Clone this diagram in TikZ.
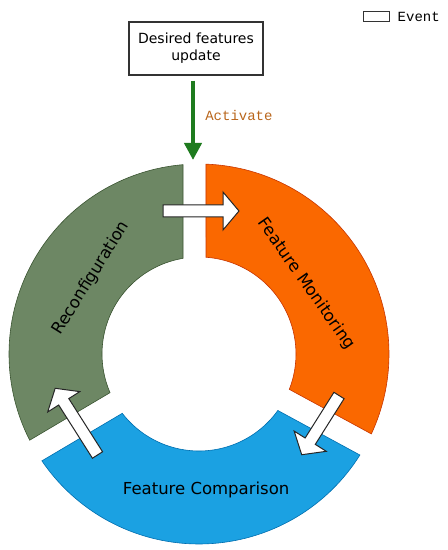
\documentclass[tikz,border=0pt]{standalone}
\usepackage{fontspec}
\setmainfont{DejaVu Sans}
\setmonofont{Liberation Mono}
\usepackage{tikz}
\usetikzlibrary{arrows.meta,positioning,calc}
\definecolor{reconfgreen}{HTML}{6D8764}
\definecolor{reconfline}{HTML}{3A5431}
\definecolor{monorange}{HTML}{FA6800}
\definecolor{monline}{HTML}{C73500}
\definecolor{compblue}{HTML}{1BA1E2}
\definecolor{compline}{HTML}{006EAF}
\definecolor{actgreen}{HTML}{1E7B1E}
\definecolor{actbrown}{HTML}{B9661C}

\tikzset{
  ringtext/.style={font=\fontsize{16.5}{18}\selectfont, inner sep=0pt},
  eventbox/.style={draw=black!80, line width=1.1pt, fill=white, align=center,
    font=\fontsize{14}{17}\selectfont, minimum width=134pt, minimum height=53pt},
  arrowfill/.style={draw=black!85, fill=white, line width=1pt, line join=miter},
  pics/blockarr/.style={code={
    \draw[arrowfill] (0,-6) -- (#1-16,-6) -- (#1-16,-19) -- (#1,0)
      -- (#1-16,19) -- (#1-16,6) -- (0,6) -- cycle;
  }}
}

\begin{document}
\begin{tikzpicture}[x=1pt,y=1pt]
  \useasboundingbox (0,0) rectangle (448,550);
  \coordinate (c) at (199,196);

  % ring segments
  \filldraw[fill=reconfgreen, draw=reconfline, line width=0.6pt]
    ($(c)+(94.83:190)$) arc[start angle=94.83, end angle=206.98, radius=190pt]
    -- ($(c)+(203.49:97)$) arc[start angle=203.49, end angle=99.49, radius=97pt] -- cycle;
  \filldraw[fill=compblue, draw=compline, line width=0.6pt]
    ($(c)+(214.22:190)$) arc[start angle=214.22, end angle=327.88, radius=190pt]
    -- ($(c)+(324.39:97)$) arc[start angle=324.39, end angle=217.71, radius=97pt] -- cycle;
  \filldraw[fill=monorange, draw=monline, line width=0.6pt]
    ($(c)+(335.12:190)$) arc[start angle=335.12, end angle=447.89, radius=190pt]
    -- ($(c)+(445.86:97)$) arc[start angle=445.86, end angle=338.61, radius=97pt] -- cycle;

  % flow between the phases
  \pic at (163,339) {blockarr=76};
  \pic[rotate=237.8] at (339,154.5) {blockarr=70};
  \pic[rotate=122.4] at (97.5,95) {blockarr=79};

  \node[ringtext, rotate=58] (reconf) at ($(c)+(144.9:132)$) {Reconfiguration};
  \node[ringtext, rotate=-55] (monit) at ($(c)+(33.2:128)$) {Feature Monitoring};
  \node[ringtext] (compar) at ($(c)+(273:136)$) {Feature Comparison};

  % event
  \node[eventbox] (update) at (196,501.5) {Desired features\\update};
  \coordinate (tip) at (193,390);
  \draw[actgreen, line width=4pt, -{Triangle[width=17pt,length=17pt]}, shorten <=5pt]
    (tip |- update.south) -- node[right=7pt, pos=0.47, text=actbrown,
      font=\ttfamily\fontsize{14}{16}\selectfont] (act) {Activate} (tip);

  % legend
  \node[draw=black!80, line width=1pt, minimum width=26pt, minimum height=10pt,
    inner sep=0pt] (legbox) at (376,533) {};
  \node[right=8pt of legbox, inner sep=0pt,
    font=\ttfamily\fontsize{14}{16}\selectfont] (legtext) {Event};
\end{tikzpicture}
\end{document}
